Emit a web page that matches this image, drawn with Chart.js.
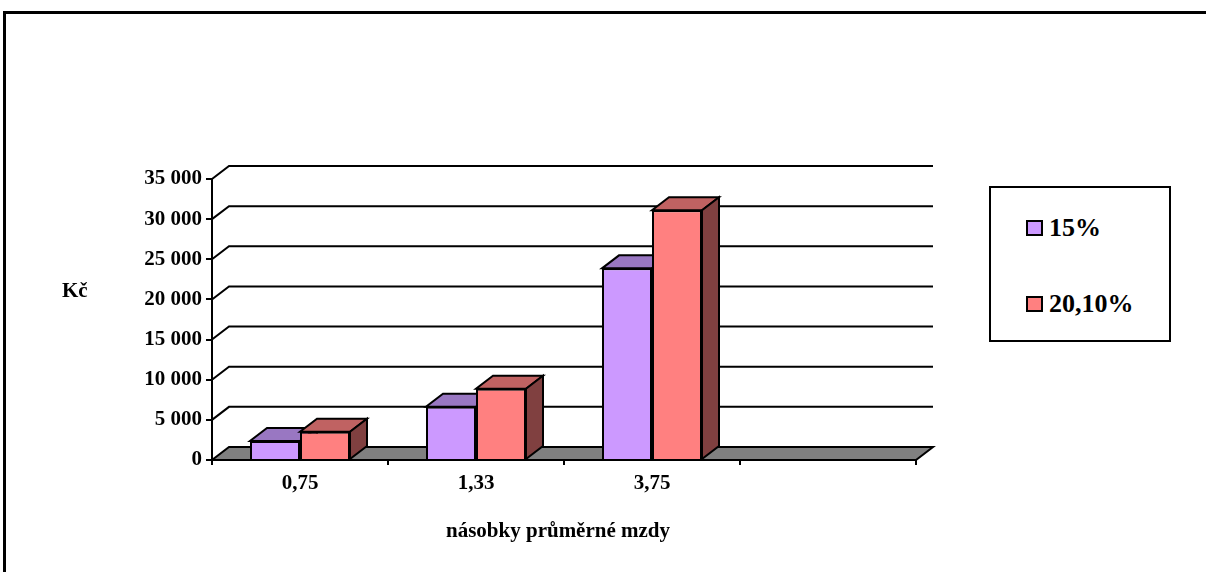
<!DOCTYPE html>
<html>
<head>
<meta charset="utf-8">
<script src="https://cdn.jsdelivr.net/npm/chart.js@4/dist/chart.umd.min.js"></script>
<style>
    html, body { margin: 0; padding: 0; background: #fff; }
    #wrap { position: relative; width: 1206px; height: 572px; overflow: hidden; }
    #chart { position: absolute; left: 0; top: 0; }
    #frame {
        position: absolute; left: 3px; top: 11px; right: -10px; bottom: -10px;
        border-top: 3px solid #000; border-left: 3px solid #000;
        pointer-events: none;
    }
    #legend {
        position: absolute; left: 989px; top: 186px; width: 178px; height: 152px;
        border: 2px solid #000; background: #fff;
        font: bold 26px "Liberation Serif", "Times New Roman", serif;
    }
    .item { position: absolute; left: 35px; height: 30px; line-height: 30px; white-space: nowrap; }
    .item .box {
        position: absolute; left: 0; top: 7px; width: 13px; height: 12px;
        border: 2px solid #000;
    }
    .item .lbl { position: absolute; left: 23px; top: 0; }
</style>
</head>
<body>
<div id="wrap">
    <canvas id="chart" width="1206" height="572"></canvas>
    <div id="frame"></div>
    <div id="legend"></div>
</div>
<script>
    // data
    var categories = ["0,75", "1,33", "3,75", ""];
    var seriesNames = ["15%", "20,10%"];
    var values15 = [2370, 6640, 23870, null];
    var values201 = [3520, 8880, 31100, null];
    var yTicks = [0, 5000, 10000, 15000, 20000, 25000, 30000, 35000];

    var frontColors = ["#CC99FF", "#FF8080"];
    var topColors = ["#9977C2", "#C06262"];
    var sideColors = ["#664C80", "#804040"];
    var DX = 17, DY = -13;
    var FONT = '"Liberation Serif", "Times New Roman", serif';

    function fmt(v) {
        return String(v).replace(/\B(?=(\d{3})+(?!\d))/g, " ");
    }

    function poly(ctx, pts, fill) {
        ctx.beginPath();
        ctx.moveTo(pts[0][0], pts[0][1]);
        for (var i = 1; i < pts.length; i++) ctx.lineTo(pts[i][0], pts[i][1]);
        ctx.closePath();
        ctx.fillStyle = fill;
        ctx.fill();
        ctx.stroke();
    }

    var depthPlugin = {
        id: "depth",
        beforeDatasetsDraw: function(chart) {
            var ctx = chart.ctx;
            var area = chart.chartArea;
            var y = chart.scales.y;
            ctx.save();
            ctx.strokeStyle = "#000";
            ctx.lineWidth = 2;
            ctx.lineJoin = "miter";

            // back wall gridlines
            yTicks.forEach(function(v) {
                if (v === 0) return;
                var py = y.getPixelForValue(v);
                ctx.beginPath();
                ctx.moveTo(area.left, py);
                ctx.lineTo(area.left + DX, py + DY);
                ctx.lineTo(area.right + DX, py + DY);
                ctx.stroke();
            });

            // floor
            poly(ctx, [
                [area.left, area.bottom], [area.right, area.bottom],
                [area.right + DX, area.bottom + DY], [area.left + DX, area.bottom + DY]
            ], "#808080");

            // tops and sides of bars
            for (var i = 0; i < categories.length; i++) {
                for (var d = 0; d < chart.data.datasets.length; d++) {
                    var bar = chart.getDatasetMeta(d).data[i];
                    var val = chart.data.datasets[d].data[i];
                    if (!bar || val === null) continue;
                    var l = bar.x - bar.width / 2, r = bar.x + bar.width / 2;
                    var t = bar.y, b = bar.base;
                    poly(ctx, [[l, t], [r, t], [r + DX, t + DY], [l + DX, t + DY]], topColors[d]);
                    poly(ctx, [[r, t], [r + DX, t + DY], [r + DX, b + DY], [r, b]], sideColors[d]);
                }
            }
            ctx.restore();
        },
        afterDraw: function(chart) {
            var ctx = chart.ctx;
            ctx.save();
            ctx.fillStyle = "#000";
            ctx.font = "bold 21px " + FONT;
            ctx.textBaseline = "alphabetic";
            ctx.textAlign = "left";
            ctx.fillText("Kč", 62, 297);
            ctx.textAlign = "center";
            ctx.fillText("násobky průměrné mzdy", 558, 537);
            ctx.restore();
        }
    };

    var chart = new Chart(document.getElementById("chart"), {
        type: "bar",
        data: {
            labels: categories,
            datasets: [
                {
                    label: seriesNames[0],
                    data: values15,
                    backgroundColor: frontColors[0],
                    borderColor: "#000",
                    borderWidth: 2,
                    borderSkipped: "bottom"
                },
                {
                    label: seriesNames[1],
                    data: values201,
                    backgroundColor: frontColors[1],
                    borderColor: "#000",
                    borderWidth: 2,
                    borderSkipped: "bottom"
                }
            ]
        },
        options: {
            responsive: false,
            animation: false,
            categoryPercentage: 100 / 176,
            barPercentage: 1,
            layout: { padding: { left: 142, right: 290, top: 179, bottom: 0 } },
            plugins: {
                legend: { display: false },
                tooltip: { enabled: false }
            },
            scales: {
                x: {
                    grid: {
                        offset: true,
                        drawOnChartArea: false,
                        drawTicks: true,
                        tickLength: 5,
                        color: "#000",
                        lineWidth: 2
                    },
                    border: { display: true, color: "#000", width: 2 },
                    ticks: {
                        color: "#000",
                        padding: 6,
                        maxRotation: 0,
                        font: { family: FONT, size: 21, weight: "bold" }
                    },
                    afterFit: function(scale) {
                        scale.height = 112;
                        scale.paddingLeft = 0;
                        scale.paddingRight = 0;
                    }
                },
                y: {
                    min: 0,
                    max: 35000,
                    grid: {
                        drawOnChartArea: false,
                        drawTicks: true,
                        tickLength: 6,
                        color: "#000",
                        lineWidth: 2
                    },
                    border: { display: true, color: "#000", width: 2 },
                    ticks: {
                        stepSize: 5000,
                        color: "#000",
                        padding: 4,
                        font: { family: FONT, size: 21, weight: "bold" },
                        callback: function(v) { return fmt(v); }
                    },
                    afterFit: function(scale) {
                        scale.width = 70;
                        scale.paddingTop = 0;
                        scale.paddingBottom = 0;
                    }
                }
            }
        },
        plugins: [depthPlugin]
    });

    // legend box
    var legend = document.getElementById("legend");
    var itemTops = [25, 101];
    seriesNames.forEach(function(name, i) {
        var item = document.createElement("div");
        item.className = "item";
        item.style.top = itemTops[i] + "px";
        item.innerHTML = '<span class="box" style="background:' + frontColors[i] + '"></span>' +
                         '<span class="lbl">' + name + '</span>';
        legend.appendChild(item);
    });
</script>
</body>
</html>
